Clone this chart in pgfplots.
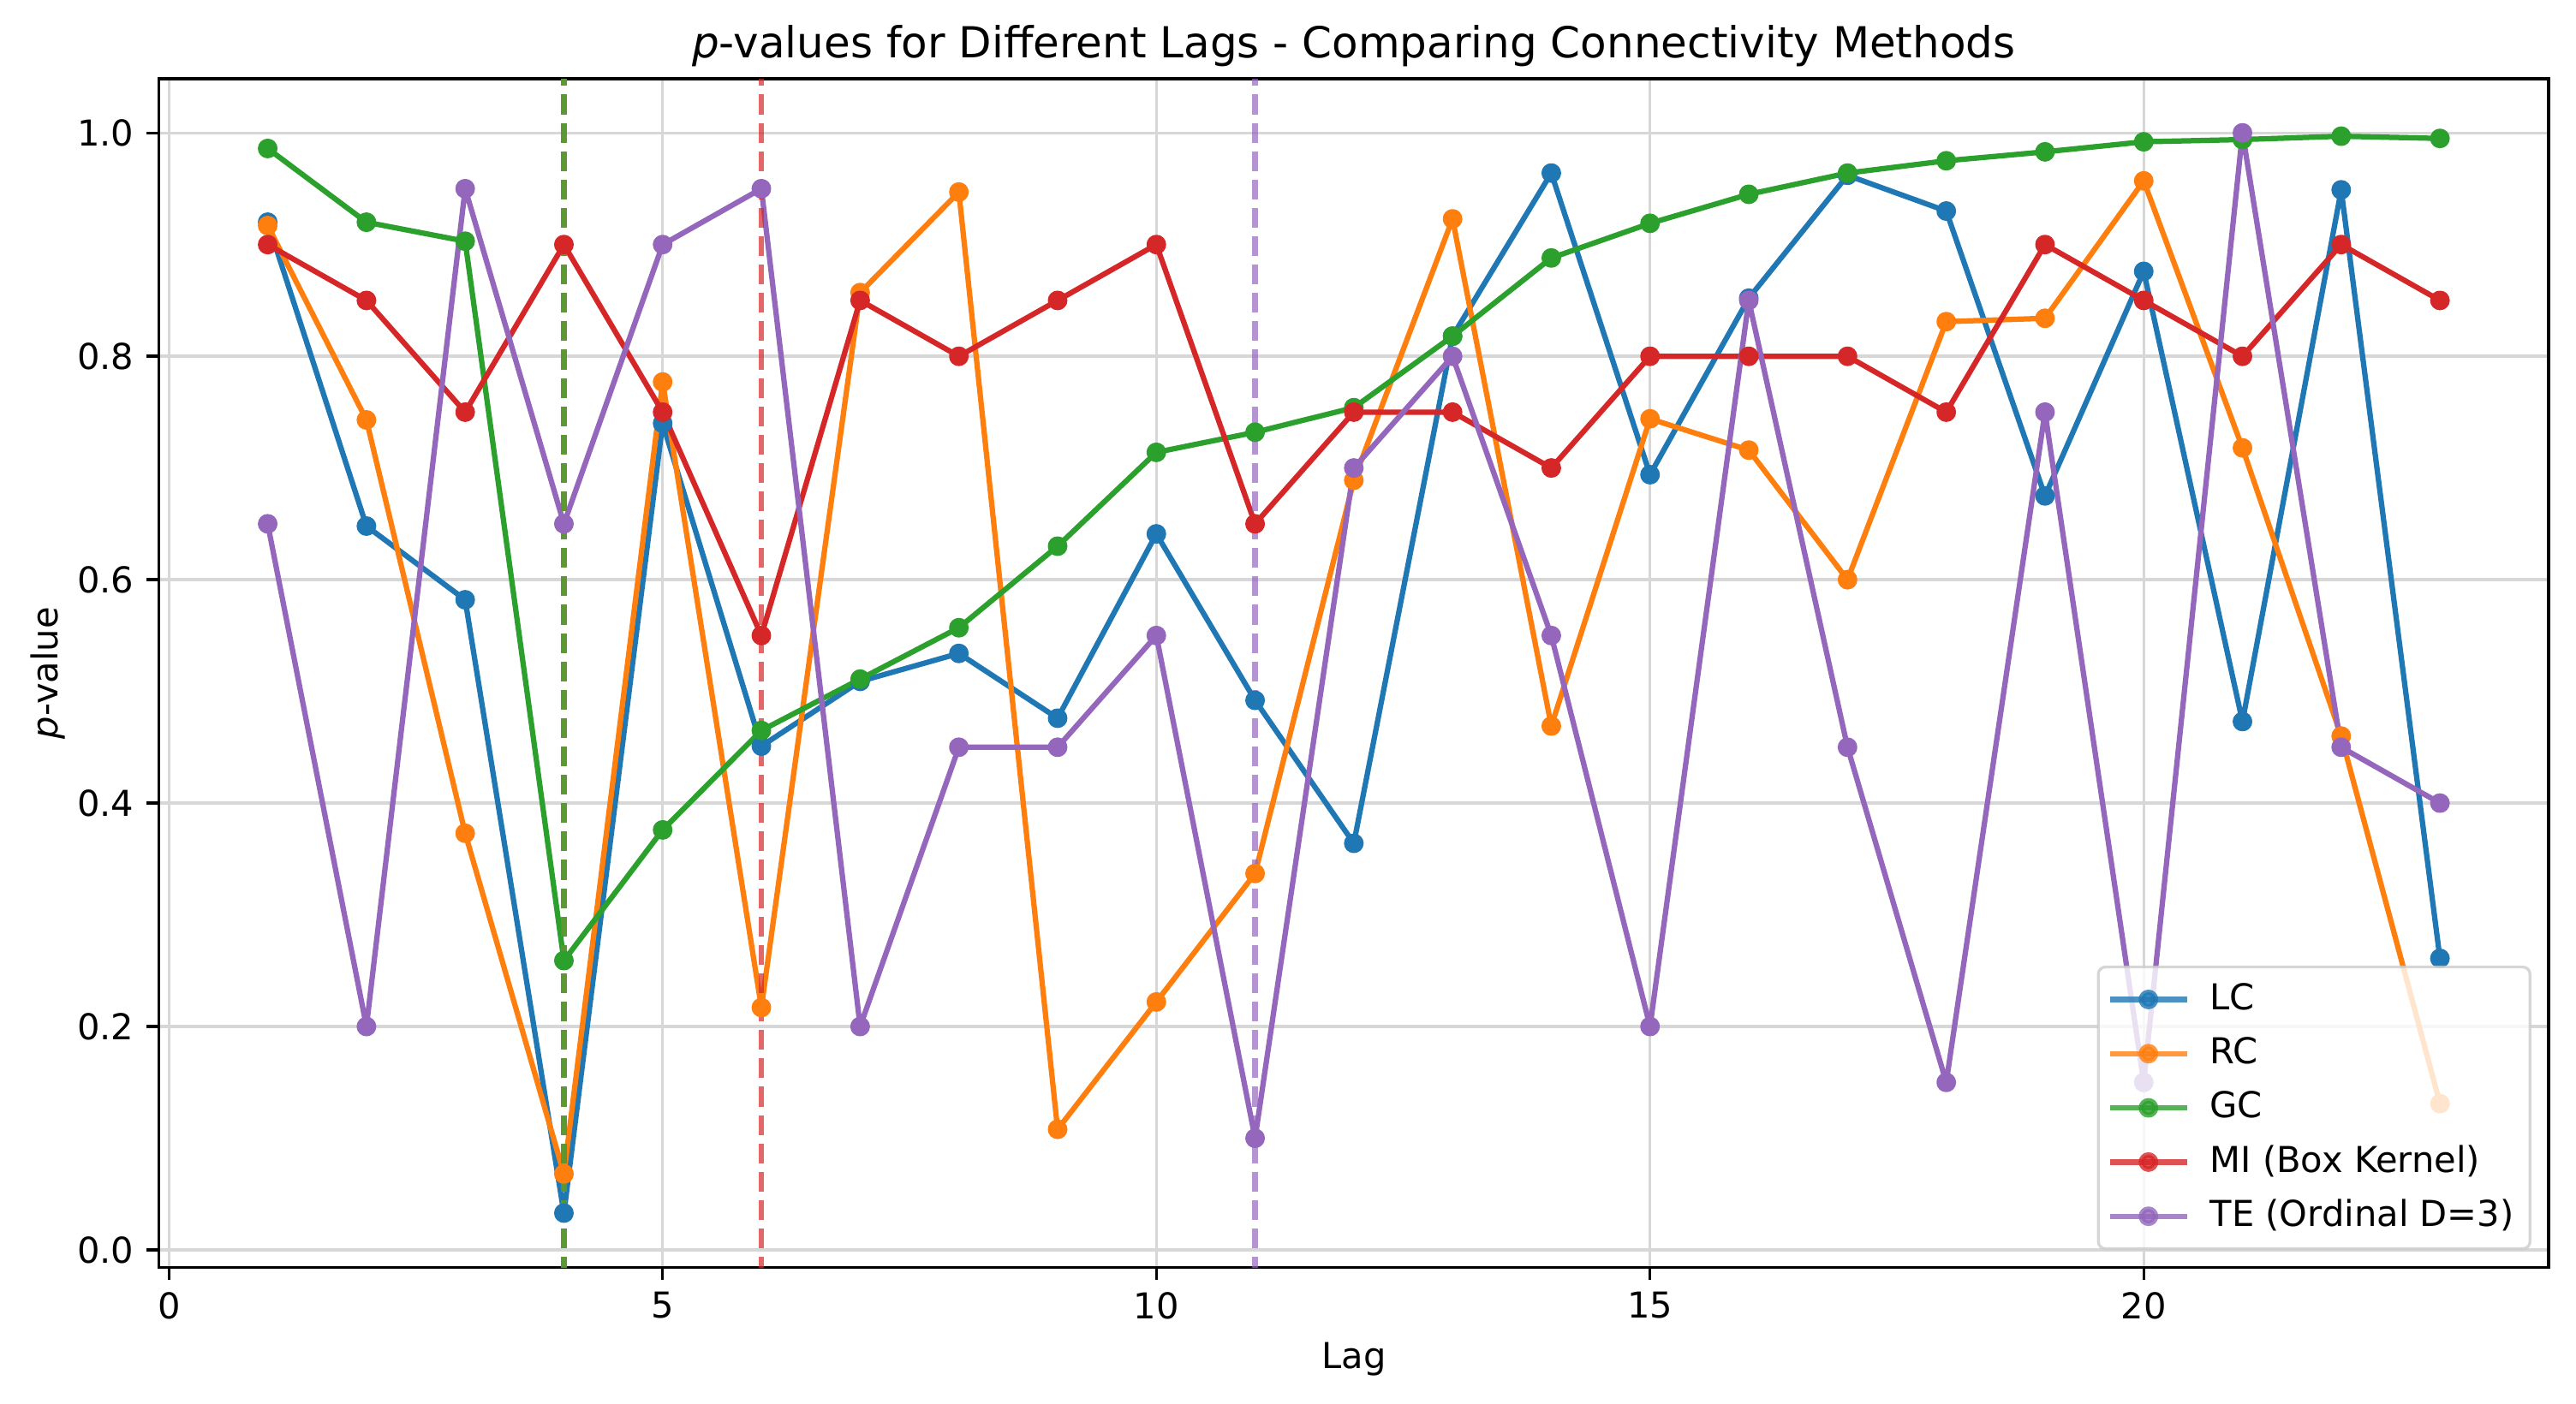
\documentclass[border=0pt]{standalone}
\usepackage{fontspec}
\setmainfont{DejaVu Sans}
\usepackage{pgfplots}
\pgfplotsset{compat=1.18}
\definecolor{c0}{RGB}{31,119,180}
\definecolor{c1}{RGB}{255,127,14}
\definecolor{c2}{RGB}{44,160,44}
\definecolor{c3}{RGB}{214,39,40}
\definecolor{c4}{RGB}{148,103,189}
\definecolor{gridc}{RGB}{215,215,215}
\begin{document}
\begin{tikzpicture}
\path[use as bounding box] (-44.6pt,-38.2pt) rectangle (677.6pt,355.4pt);
\begin{axis}[
  at={(0,0)}, anchor=south west,
  scale only axis, width=669.9pt, height=333.3pt,
  xmin=-0.1, xmax=24.1, ymin=-0.0155, ymax=1.0484,
  xtick={0,5,10,15,20},
  ytick={0,0.2,0.4,0.6,0.8,1.0},
  yticklabel style={/pgf/number format/.cd, fixed, fixed zerofill, precision=1},
  /pgf/number format/assume math mode=true,
  tick label style={font=\fontsize{10}{12}\selectfont},
  tick align=outside, major tick length=3.5pt,
  every tick/.style={black, line width=0.8pt},
  xtick pos=bottom, ytick pos=left,
  axis line style={line width=0.8pt},
  grid=major,
  major grid style={gridc, line width=0.8pt},
  title={\textit{p}-values for Different Lags - Comparing Connectivity Methods},
  title style={at={(axis description cs:0.5,1)}, anchor=base, font=\fontsize{12}{14}\selectfont, inner sep=0pt},
  xlabel={Lag},
  xlabel style={at={(axis description cs:0.5,-0.0771)}, anchor=center, font=\fontsize{10}{12}\selectfont},
  ylabel={\textit{p}-value},
  ylabel style={at={(axis description cs:-0.0466,0.5)}, anchor=center, font=\fontsize{10}{12}\selectfont},
  legend cell align=left,
  legend style={at={(axis description cs:1,0)}, anchor=south east, xshift=-4.8pt, yshift=4.8pt,
    draw=black!20, line width=0.8pt, fill=white, fill opacity=0.8, text opacity=1, draw opacity=0.8,
    rounded corners=2pt, inner xsep=2.5pt, inner ysep=2.3pt, row sep=1.6pt,
    font=\fontsize{10}{12}\selectfont,
    nodes={inner ysep=2pt, inner xsep=2pt, text height=7.6pt, text depth=2pt},
    /tikz/every odd column/.append style={column sep=3.7pt}},
  legend image code/.code={\draw[mark repeat=2,mark phase=2] plot coordinates {(0cm,0cm) (0.38cm,0cm) (0.76cm,0cm)};},
  every axis plot/.append style={line width=1.5pt, line join=round, mark=*, mark size=2pt, mark options={solid}},
]
\addplot[c0] coordinates {(1,0.920)(2,0.648)(3,0.582)(4,0.033)(5,0.740)(6,0.451)(7,0.509)(8,0.534)(9,0.476)(10,0.641)(11,0.492)(12,0.364)(13,0.818)(14,0.964)(15,0.694)(16,0.852)(17,0.962)(18,0.930)(19,0.675)(20,0.876)(21,0.473)(22,0.949)(23,0.261)};
\addlegendentry{LC}
\addplot[c1] coordinates {(1,0.917)(2,0.743)(3,0.373)(4,0.068)(5,0.777)(6,0.217)(7,0.857)(8,0.947)(9,0.108)(10,0.222)(11,0.337)(12,0.689)(13,0.923)(14,0.469)(15,0.744)(16,0.716)(17,0.600)(18,0.831)(19,0.834)(20,0.957)(21,0.718)(22,0.460)(23,0.131)};
\addlegendentry{RC}
\addplot[c2] coordinates {(1,0.986)(2,0.920)(3,0.903)(4,0.259)(5,0.376)(6,0.465)(7,0.511)(8,0.557)(9,0.630)(10,0.714)(11,0.732)(12,0.754)(13,0.818)(14,0.888)(15,0.919)(16,0.945)(17,0.964)(18,0.975)(19,0.983)(20,0.992)(21,0.994)(22,0.997)(23,0.995)};
\addlegendentry{GC}
\addplot[c3] coordinates {(1,0.90)(2,0.85)(3,0.75)(4,0.90)(5,0.75)(6,0.55)(7,0.85)(8,0.80)(9,0.85)(10,0.90)(11,0.65)(12,0.75)(13,0.75)(14,0.70)(15,0.80)(16,0.80)(17,0.80)(18,0.75)(19,0.90)(20,0.85)(21,0.80)(22,0.90)(23,0.85)};
\addlegendentry{MI (Box Kernel)}
\addplot[c4] coordinates {(1,0.65)(2,0.20)(3,0.95)(4,0.65)(5,0.90)(6,0.95)(7,0.20)(8,0.45)(9,0.45)(10,0.55)(11,0.10)(12,0.70)(13,0.80)(14,0.55)(15,0.20)(16,0.85)(17,0.45)(18,0.15)(19,0.75)(20,0.15)(21,1.00)(22,0.45)(23,0.40)};
\addlegendentry{TE (Ordinal D=3)}
% vertical dashed lines at the lag of each method's minimum p-value
\addplot[forget plot, c0, mark=none, opacity=0.7, dash pattern=on 5.55pt off 2.4pt, line cap=butt] coordinates {(4,-0.1)(4,1.2)};
\addplot[forget plot, c1, mark=none, opacity=0.7, dash pattern=on 5.55pt off 2.4pt, line cap=butt] coordinates {(4,-0.1)(4,1.2)};
\addplot[forget plot, c2, mark=none, opacity=0.7, dash pattern=on 5.55pt off 2.4pt, line cap=butt] coordinates {(4,-0.1)(4,1.2)};
\addplot[forget plot, c3, mark=none, opacity=0.7, dash pattern=on 5.55pt off 2.4pt, line cap=butt] coordinates {(6,-0.1)(6,1.2)};
\addplot[forget plot, c4, mark=none, opacity=0.7, dash pattern=on 5.55pt off 2.4pt, line cap=butt] coordinates {(11,-0.1)(11,1.2)};
\end{axis}
\end{tikzpicture}
\end{document}
